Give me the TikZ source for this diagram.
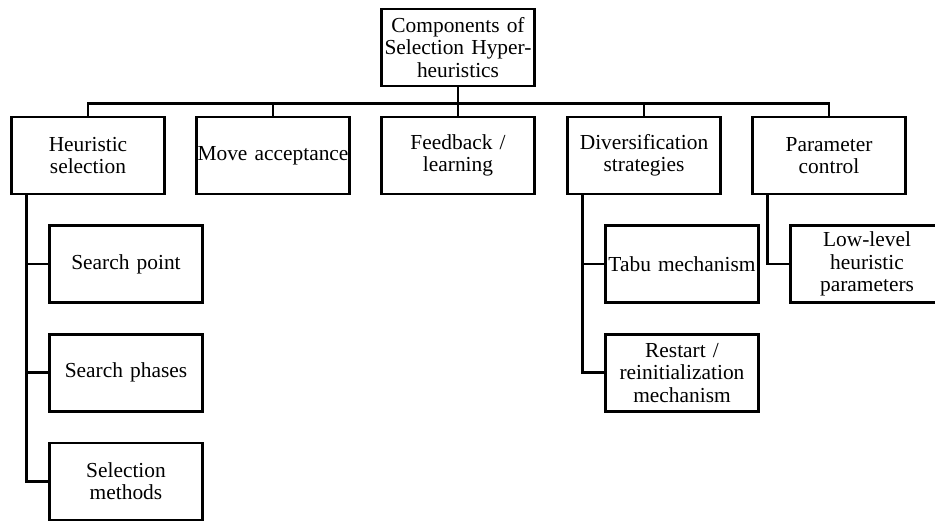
\documentclass[tikz,border=0pt]{standalone}
\usepackage{fontspec}
\setmainfont{Liberation Serif}
\usetikzlibrary{positioning}
\tikzset{node distance=14.5pt,
  comp/.style={draw,rectangle,line width=1.3pt,minimum width=76.5pt,minimum height=38.5pt,
    inner xsep=0.5pt,inner ysep=2pt,text width=75.5pt,align=center,
    font=\fontsize{10.7pt}{11.2pt}\selectfont},
  link/.style={draw,line width=1.3pt}}
\begin{document}
\begin{tikzpicture}[x=0.5pt,y=-0.5pt]
				\useasboundingbox (0,0) rectangle (935,521);
				\node[comp] (root) at (458,47.5) {Components of\\Selection Hyper-\\heuristics};
				\node[comp] (hs) at (88,155.5) {Heuristic\\selection};
				\node[comp] (ma) at (273,155.5) {Move acceptance};
				\node[comp] (fl) at (458,155.5) {Feedback /\\learning};
				\node[comp] (ds) at (644,155.5) {Diversification\\strategies};
				\node[comp] (pc) at (829,155.5) {Parameter\\control};

				\node[comp] (sp) [below=of hs, xshift=19pt] {Search point};
				\node[comp] (sph) [below=of sp] {Search phases};
				\node[comp] (sm) [below=of sph] {Selection\\methods};
				\node[comp] (tm) [below=of ds, xshift=19pt] {Tabu mechanism};
				\node[comp] (rm) [below=of tm] {Restart /\\reinitialization\\mechanism};
				\node[comp] (lp) [below=of pc, xshift=19pt] {Low-level\\heuristic\\parameters};

				\path[link]
					(root.south) -- ++(0,-8pt) -| (hs.north)
					(root.south) -- ++(0,-8pt) -| (ma.north)
					(root.south) -- (fl.north)
					(root.south) -- ++(0,-8pt) -| (ds.north)
					(root.south) -- ++(0,-8pt) -| (pc.north);

				\path[link]
					([xshift=8pt]hs.south west) |- (sp.west)
					([xshift=8pt]hs.south west) |- (sph.west)
					([xshift=8pt]hs.south west) |- (sm.west)
					([xshift=8pt]ds.south west) |- (tm.west)
					([xshift=8pt]ds.south west) |- (rm.west)
					([xshift=8pt]pc.south west) |- (lp.west);
			\end{tikzpicture}
\end{document}
